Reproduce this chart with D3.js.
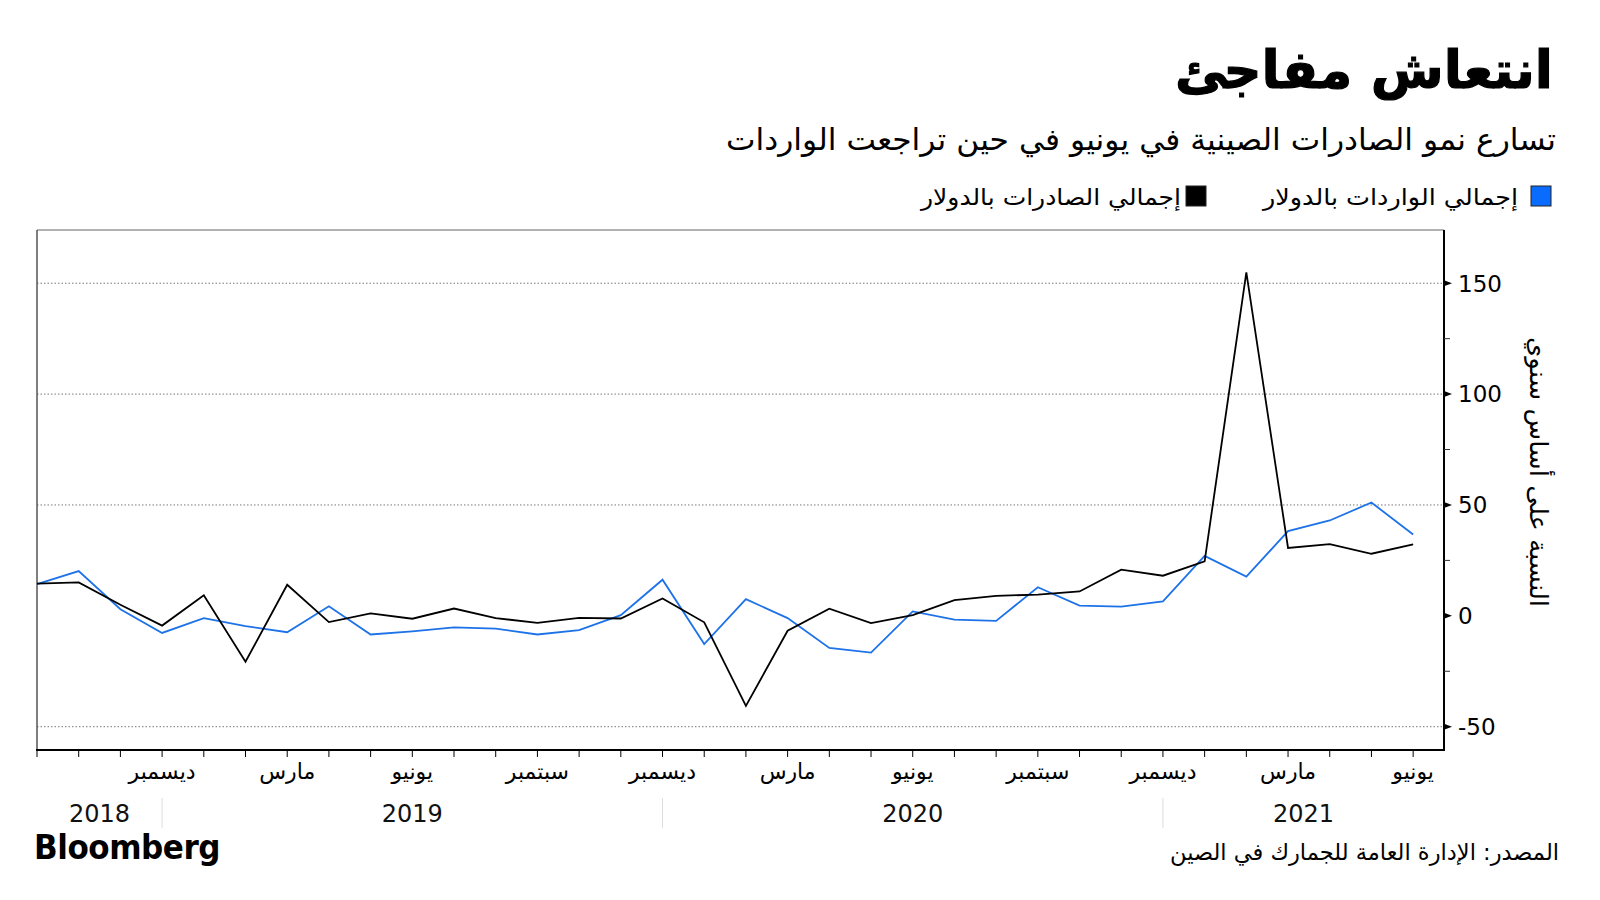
<!DOCTYPE html>
<html><head><meta charset="utf-8">
<script src="https://cdn.jsdelivr.net/npm/d3@7"></script>
<style>
html,body{margin:0;padding:0;background:#fff;}
svg{display:block;}
text{font-family:"DejaVu Sans",sans-serif;}
</style></head>
<body>
<svg id="chart" width="1600" height="900"></svg>
<script>
// ---- data ----
const months = ["2018-09","2018-10","2018-11","2018-12","2019-01","2019-02","2019-03","2019-04","2019-05","2019-06","2019-07","2019-08","2019-09","2019-10","2019-11","2019-12","2020-01","2020-02","2020-03","2020-04","2020-05","2020-06","2020-07","2020-08","2020-09","2020-10","2020-11","2020-12","2021-01","2021-02","2021-03","2021-04","2021-05","2021-06"];
const exportsYoY = [14.5, 15.1, 5.0, -4.4, 9.3, -20.7, 14.0, -2.8, 1.1, -1.3, 3.3, -1.0, -3.2, -0.9, -1.2, 7.8, -2.9, -40.6, -6.7, 3.2, -3.3, 0.3, 7.1, 9.0, 9.6, 11.0, 20.8, 18.1, 24.6, 154.9, 30.6, 32.3, 28.0, 32.2];
const importsYoY = [14.3, 20.2, 3.0, -7.7, -1.0, -4.6, -7.4, 4.3, -8.4, -7.0, -5.2, -5.8, -8.4, -6.4, 0.3, 16.3, -12.7, 7.5, -1.0, -14.5, -16.6, 2.0, -1.7, -2.3, 12.9, 4.6, 4.2, 6.5, 27.0, 17.7, 38.2, 43.0, 51.1, 36.7];
const yTicks = [-50, 0, 50, 100, 150];
const yMinorTicks = [-25, 25, 75, 125];
const gridValues = [-50, 50, 100, 150];
const monthNames = {12:"ديسمبر", 3:"مارس", 6:"يونيو", 9:"سبتمبر"};
const seriesNames = ["إجمالي الواردات بالدولار", "إجمالي الصادرات بالدولار"];
const titleText = "انتعاش مفاجئ";
const subtitleText = "تسارع نمو الصادرات الصينية في يونيو في حين تراجعت الواردات";
const yTitleText = "النسبة على أساس سنوي";
const sourceText = "المصدر: الإدارة العامة للجمارك في الصين";

// ---- layout ----
const L = 37, R = 1444, T = 230, B = 750;
const svg = d3.select("#chart");
const x = d3.scaleLinear().domain([0, months.length - 1 + 0.74]).range([L, R]);
const y = d3.scaleLinear().domain([-60.5, 174]).range([B, T]);
const blue = "#1d72e8";

// gridlines
svg.append("g").selectAll("line").data(gridValues).join("line")
  .attr("x1", L).attr("x2", R).attr("y1", d => y(d)).attr("y2", d => y(d))
  .attr("stroke", "#777").attr("stroke-width", 1).attr("stroke-dasharray", "1.5,2");

// frame: top + left thin grey
svg.append("line").attr("x1", L).attr("x2", R).attr("y1", T).attr("y2", T).attr("stroke", "#666").attr("stroke-width", 1.2);
svg.append("line").attr("x1", L).attr("x2", L).attr("y1", T).attr("y2", B).attr("stroke", "#555").attr("stroke-width", 1.5);

// lines
const line = d3.line().x((d, i) => x(i)).y(d => y(d));
svg.append("path").datum(importsYoY).attr("d", line).attr("fill", "none")
  .attr("stroke", blue).attr("stroke-width", 1.8).attr("stroke-linejoin", "miter");
svg.append("path").datum(exportsYoY).attr("d", line).attr("fill", "none")
  .attr("stroke", "#000").attr("stroke-width", 1.8).attr("stroke-linejoin", "miter");

// right axis
svg.append("line").attr("x1", R).attr("x2", R).attr("y1", T).attr("y2", B).attr("stroke", "#000").attr("stroke-width", 2);
const yMaj = svg.append("g").selectAll("g").data(yTicks).join("g").attr("transform", d => `translate(${R},${y(d)})`);
yMaj.append("path").attr("d", "M0,-3L8,0L0,3Z").attr("fill", "#000");
yMaj.append("text").attr("x", 14).attr("dy", "0.36em").attr("font-size", 23).attr("fill", "#000")
  .text(d => d < 0 ? "-" + Math.abs(d) : d);
svg.append("g").selectAll("line").data(yMinorTicks).join("line")
  .attr("x1", R).attr("x2", R + 6).attr("y1", d => y(d)).attr("y2", d => y(d))
  .attr("stroke", "#333").attr("stroke-width", 1);

// y title
svg.append("text").attr("transform", `translate(1530,472) rotate(90)`)
  .attr("text-anchor", "middle").attr("font-size", 25).attr("fill", "#000")
  .attr("textLength", 270).attr("lengthAdjust", "spacingAndGlyphs")
  .text(yTitleText);

// bottom axis
svg.append("line").attr("x1", L - 1).attr("x2", R + 1).attr("y1", B).attr("y2", B).attr("stroke", "#000").attr("stroke-width", 2);
svg.append("g").selectAll("line").data(months).join("line")
  .attr("x1", (d, i) => x(i)).attr("x2", (d, i) => x(i)).attr("y1", B).attr("y2", B + 7)
  .attr("stroke", "#000").attr("stroke-width", 1);

// month labels (first month at the axis edge is not labelled)
const labeled = months.map((m, i) => ({i, m: +m.slice(5)})).filter(d => d.i > 0 && monthNames[d.m]);
svg.append("g").selectAll("text").data(labeled).join("text")
  .attr("x", d => x(d.i)).attr("y", 779).attr("text-anchor", "middle")
  .attr("font-size", 22).attr("fill", "#000")
  .text(d => monthNames[d.m]);

// year separators and labels
const decIdx = months.map((m, i) => ({i, m})).filter(d => d.m.slice(5) === "12").map(d => d.i);
svg.append("g").selectAll("line").data(decIdx).join("line")
  .attr("x1", d => x(d)).attr("x2", d => x(d)).attr("y1", 798).attr("y2", 828)
  .attr("stroke", "#ddd").attr("stroke-width", 1);
const bounds = [x.range()[0], ...decIdx.map(d => x(d)), x.range()[1]];
const years = Array.from(new Set(months.map(m => m.slice(0, 4))));
svg.append("g").selectAll("text").data(years).join("text")
  .attr("x", (d, i) => (bounds[i] + bounds[i + 1]) / 2).attr("y", 822)
  .attr("text-anchor", "middle").attr("font-size", 24).attr("fill", "#111")
  .text(d => d);

// title & subtitle
svg.append("text").attr("x", 1553).attr("y", 88).attr("text-anchor", "end")
  .attr("font-size", 52).attr("font-weight", "bold").attr("fill", "#000")
  .attr("stroke", "#000").attr("stroke-width", 1.2)
  .attr("textLength", 378).attr("lengthAdjust", "spacingAndGlyphs")
  .text(titleText);
svg.append("text").attr("x", 1556).attr("y", 150).attr("text-anchor", "end")
  .attr("font-size", 30).attr("fill", "#000")
  .attr("textLength", 830).attr("lengthAdjust", "spacingAndGlyphs")
  .text(subtitleText);

// legend
const legend = [
  {name: seriesNames[0], color: "#0a6cff", sq: 1531, tx: 1518, tl: 255},
  {name: seriesNames[1], color: "#000", sq: 1186, tx: 1181, tl: 260}
];
const lg = svg.append("g").selectAll("g").data(legend).join("g");
lg.append("rect").attr("x", d => d.sq).attr("y", 186).attr("width", 20).attr("height", 20)
  .attr("fill", d => d.color).attr("stroke", "#222").attr("stroke-width", 1);
lg.append("text").attr("x", d => d.tx).attr("y", 205).attr("text-anchor", "end")
  .attr("font-size", 23).attr("fill", "#000")
  .attr("textLength", d => d.tl).attr("lengthAdjust", "spacingAndGlyphs")
  .text(d => d.name);

// footer
svg.append("text").attr("x", 34).attr("y", 859)
  .attr("font-family", "'Liberation Sans', Arial, sans-serif").attr("font-weight", "bold")
  .attr("font-size", 34).attr("fill", "#000")
  .attr("textLength", 186).attr("lengthAdjust", "spacingAndGlyphs")
  .style("letter-spacing", "-0.5px")
  .text("Bloomberg");
svg.append("text").attr("x", 1559).attr("y", 860).attr("text-anchor", "end")
  .attr("font-size", 23).attr("fill", "#000")
  .attr("textLength", 389).attr("lengthAdjust", "spacingAndGlyphs")
  .text(sourceText);
</script>
</body></html>
